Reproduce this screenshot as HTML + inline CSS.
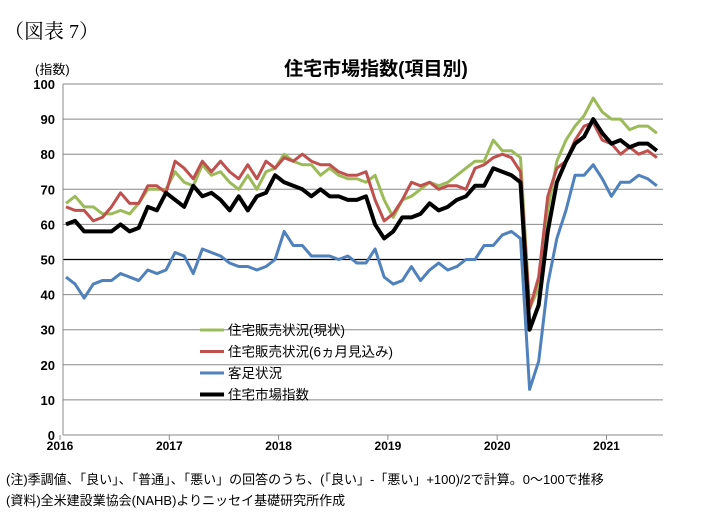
<!DOCTYPE html>
<html><head><meta charset="utf-8"><style>
body{margin:0;background:#fff;font-family:"Liberation Sans","Noto Sans CJK JP",sans-serif;}
svg text{font-family:"Liberation Sans","Noto Sans CJK JP",sans-serif;}
</style></head><body>
<svg id="chart" width="701" height="521" viewBox="0 0 701 521">
<text x="4" y="38" font-size="20" style="font-family:'Liberation Serif','Noto Serif CJK SC',serif">（図表 7）</text>
<text x="376" y="75" font-size="19" font-weight="bold" text-anchor="middle">住宅市場指数(項目別)</text>
<text x="35" y="74" font-size="13">(指数)</text>
<g id="grid"></g><g id="series"></g><g id="legend"></g>
<text x="6" y="484" font-size="13">(注)季調値、「良い」、「普通」、「悪い」の回答のうち、(「良い」-「悪い」+100)/2で計算。0～100で推移</text>
<text x="6" y="505" font-size="13">(資料)全米建設業協会(NAHB)よりニッセイ基礎研究所作成</text>
</svg>
<script>
const yTicks=[0,10,20,30,40,50,60,70,80,90,100];
const years=["2016","2017","2018","2019","2020","2021"];
const seriesNames=["住宅販売状況(現状)","住宅販売状況(6ヵ月見込み)","客足状況","住宅市場指数"];
const current=[66,68,65,65,63,63,64,63,66,70,70,70, 75,72,71,77,74,75,72,70,74,70,75,76, 80,78,77,77,74,76,74,73,73,72,74,67, 62,67,68,70,72,71,72,74,76,78,78,84, 81,81,79,36,42,64,78,84,88,91,96,92, 90,90,87,88,88,86];
const expect=[65,64,64,61,62,65,69,66,66,71,71,69, 78,76,73,78,75,78,75,73,77,73,78,76, 79,78,80,78,77,77,75,74,74,75,67,61, 63,67,72,71,72,70,71,71,70,76,77,79, 80,79,75,36,45,68,76,78,84,88,89,84, 83,80,82,80,81,79];
const traffic=[45,43,39,43,44,44,46,45,44,47,46,47, 52,51,46,53,52,51,49,48,48,47,48,50, 58,54,54,51,51,51,50,51,49,49,53,45, 43,44,48,44,47,49,47,48,50,50,54,54, 57,58,56,13,21,43,56,64,74,74,77,73, 68,72,72,74,73,71];
const hmi=[60,61,58,58,58,58,60,58,59,65,64,69, 67,65,71,68,69,67,64,68,64,68,69,74, 72,71,70,68,70,68,68,67,67,68,60,56, 58,62,62,63,66,64,65,67,68,71,71,76, 75,74,72,30,37,58,72,78,83,85,90,86, 83,84,82,83,83,81];
const NS="http://www.w3.org/2000/svg";
const X0=66,STEP=9.09,Y0=435,YS=3.51,XR=663;
const x=i=>X0+i*STEP, y=v=>Y0-v*YS;
const grid=document.getElementById('grid');
function mk(t,a,p){const e=document.createElementNS(NS,t);for(const k in a)e.setAttribute(k,a[k]);p.appendChild(e);return e;}
yTicks.forEach(v=>{
 const l=mk('line',{x1:63,x2:XR,y1:y(v),y2:y(v),stroke:v===50?'#000':'#888','stroke-width':v===50?1.2:1},grid);
 
 
 const t=mk('text',{x:55,y:y(v)+5,'font-size':13,'font-weight':'bold','text-anchor':'end'},grid);t.textContent=v;
 
 
});
const ax=mk('line',{x1:63,x2:63,y1:y(100),y2:Y0,stroke:'#888'},grid);


years.forEach((yr,k)=>{
 const xp=X0-6+k*109.3;
 mk('line',{x1:xp,x2:xp,y1:Y0,y2:Y0+5,stroke:'#888'},grid);
 const t=mk('text',{x:xp,y:Y0+15,'font-size':12,'font-weight':'bold','text-anchor':'middle'},grid);t.textContent=yr;
 
 
});
const colors=['#9bbb59','#c0504d','#4f81bd','#000'];
const widths=[3,3,3,4];
const data=[current,expect,traffic,hmi];
const names=['line-current-sales','line-expected-sales','line-traffic','line-hmi'];
const sg=document.getElementById('series');
data.forEach((d,s)=>{
 const p=mk('polyline',{points:d.map((v,i)=>x(i)+','+y(v)).join(' '),fill:'none',stroke:colors[s],'stroke-width':widths[s],'stroke-linejoin':'round'},sg);
 
 
});
const lg=document.getElementById('legend');
seriesNames.forEach((n,s)=>{
 const yy=330+s*21.5;
 const g=mk('g',{},lg);
 
 
 mk('line',{x1:200,x2:224,y1:yy,y2:yy,stroke:colors[s],'stroke-width':widths[s]},g);
 const t=mk('text',{x:228,y:yy+5,'font-size':13.5},g);t.textContent=n;
});
</script>
</body></html>
